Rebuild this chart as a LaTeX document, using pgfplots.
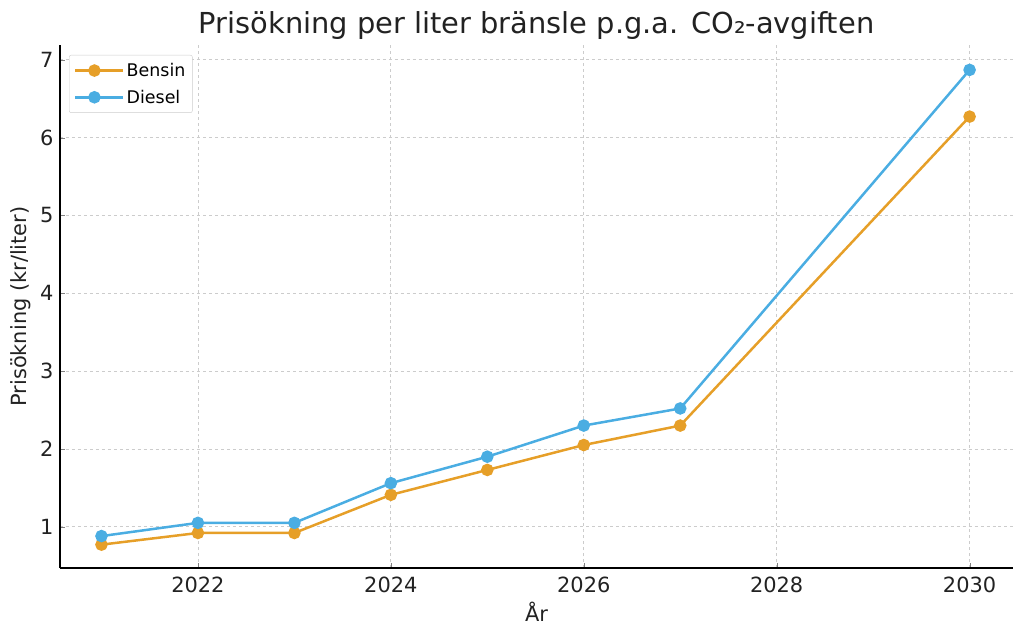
\documentclass[border=0pt]{standalone}
\usepackage{pgfplots}
\pgfplotsset{compat=1.18}
\usepackage{fontspec}
\setmainfont{DejaVu Sans}
\definecolor{bensin}{RGB}{230,159,40}
\definecolor{diesel}{RGB}{74,173,226}
\definecolor{txt}{RGB}{34,34,34}
\begin{document}
\begin{tikzpicture}
\useasboundingbox (0,0) rectangle (1024bp,637bp);
\begin{axis}[
  at={(60bp,69bp)}, anchor=south west,
  scale only axis, width=953bp, height=523bp,
  xmin=2020.57, xmax=2030.45, ymin=0.47, ymax=7.19,
  xtick={2022,2024,2026,2028,2030},
  ytick={1,2,3,4,5,6,7},
  /pgf/number format/assume math mode=true,
  /pgf/number format/1000 sep={},
  tick label style={font=\fontsize{21}{24}\selectfont, text=txt},
  yticklabel style={xshift=-3bp},
  xticklabel style={yshift=-5bp},
  tick align=inside, major tick length=5bp,
  axis x line*=bottom, axis y line*=left,
  axis line style={line width=1.2bp, -},
  grid=major,
  major grid style={dashed, gray!40, line width=0.8bp},
  title={Prisökning per liter bränsle p.g.a. CO₂-avgiften},
  title style={font=\fontsize{29}{32}\selectfont, text=txt, at={(0.5,1)}, anchor=center, yshift=13bp},
  xlabel={År},
  ylabel={Prisökning (kr/liter)},
  label style={font=\fontsize{21}{24}\selectfont, text=txt},
  xlabel style={at={(0.5,0)}, anchor=center, yshift=-44bp},
  ylabel style={at={(0,0.5)}, anchor=center, yshift=39bp},
  legend style={at={(0,1)}, anchor=north west, xshift=9bp, yshift=-10bp,
    font=\fontsize{17.5}{20}\selectfont, draw=gray!40, rounded corners=2bp,
    row sep=8bp, inner xsep=5bp, inner ysep=6bp},
  legend cell align=left,
  legend image code/.code={
    \draw[#1, line width=2.5bp] (0bp,0bp) -- (38bp,0bp);
    \fill[#1] (19bp,0bp) circle (5bp);
    \path (0bp,0bp) -- (48bp,0bp);
  },
]
\addplot[color=bensin, line width=2.5bp, mark=*, mark size=5bp] coordinates {
 (2021,0.77) (2022,0.92) (2023,0.92) (2024,1.41) (2025,1.73) (2026,2.05) (2027,2.30) (2030,6.27)};
\addlegendentry{Bensin}
\addplot[color=diesel, line width=2.5bp, mark=*, mark size=5bp] coordinates {
 (2021,0.88) (2022,1.05) (2023,1.05) (2024,1.56) (2025,1.90) (2026,2.30) (2027,2.52) (2030,6.87)};
\addlegendentry{Diesel}
\end{axis}
\end{tikzpicture}
\end{document}
